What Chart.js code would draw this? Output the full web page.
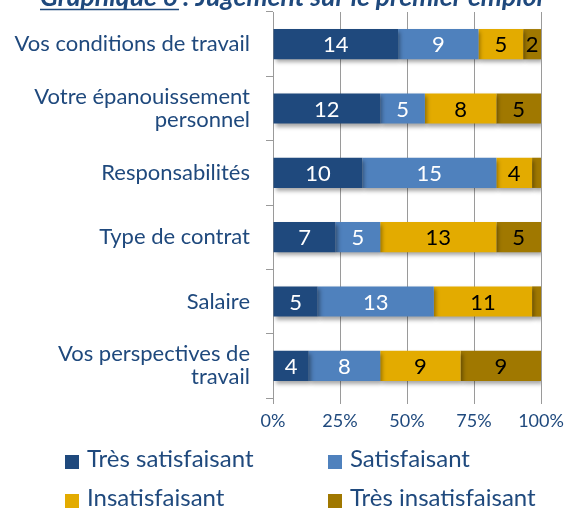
<!DOCTYPE html>
<html><head><meta charset="utf-8">
<script src="https://cdn.jsdelivr.net/npm/chart.js@4/dist/chart.umd.min.js"></script>
<style>
html,body{margin:0;padding:0;background:#fff;}
#wrap{position:relative;width:568px;height:510px;overflow:hidden;}
#c{position:absolute;left:0;top:0;}
.box{position:absolute;width:14px;height:14px;}
.lt{position:absolute;font-family:Lato,sans-serif;font-size:24px;color:#1F497D;line-height:24px;white-space:nowrap;}
</style>
</head><body>
<div id="wrap"><canvas id="c" width="568" height="510"></canvas></div>
<script>
const titleText = "Graphique 6 : Jugement sur le premier emploi";
const titleUnderlined = "Graphique 6";
const categories = [
  ["Vos conditions de travail"],
  ["Votre épanouissement", "personnel"],
  ["Responsabilités"],
  ["Type de contrat"],
  ["Salaire"],
  ["Vos perspectives de", "travail"]
];
const seriesNames = ["Très satisfaisant", "Satisfaisant", "Insatisfaisant", "Très insatisfaisant"];
const tresSatisfaisant   = [14, 12, 10, 7, 5, 4];
const satisfaisant       = [9, 5, 15, 5, 13, 8];
const insatisfaisant     = [5, 8, 4, 13, 11, 9];
const tresInsatisfaisant = [2, 5, 1, 5, 1, 9];
const xTicks = [0, 25, 50, 75, 100];

const colors = ["#1F497D", "#4F81BD", "#E3AB00", "#A07800"];
const labelColors = ["#FFFFFF", "#FFFFFF", "#000000", "#000000"];
const FONT = "Lato, sans-serif";
const TXT = "#1F497D";

const raw = [tresSatisfaisant, satisfaisant, insatisfaisant, tresInsatisfaisant];
const totals = categories.map((_, i) => raw.reduce((s, a) => s + a[i], 0));

const datasets = raw.map((arr, k) => ({
  label: seriesNames[k],
  data: arr.map((v, i) => v / totals[i] * 100),
  rawValues: arr,
  backgroundColor: colors[k],
  borderWidth: 0,
  barPercentage: 0.47,
  categoryPercentage: 1.0
}));

const shadowPlugin = {
  id: 'shadow',
  beforeDatasetDraw(chart) {
    const ctx = chart.ctx; ctx.save();
    ctx.shadowColor = 'rgba(0,0,0,0.35)';
    ctx.shadowBlur = 4; ctx.shadowOffsetX = 2; ctx.shadowOffsetY = 3;
  },
  afterDatasetDraw(chart) { chart.ctx.restore(); }
};

const labelPlugin = {
  id: 'barLabels',
  afterDatasetsDraw(chart) {
    const ctx = chart.ctx;
    ctx.save();
    ctx.font = "22px " + FONT;
    ctx.textAlign = 'center'; ctx.textBaseline = 'middle';
    chart.data.datasets.forEach((ds, k) => {
      const meta = chart.getDatasetMeta(k);
      meta.data.forEach((el, i) => {
        const v = ds.rawValues[i];
        if (v < 2) return;
        ctx.fillStyle = labelColors[k];
        ctx.fillText(String(v), (el.x + el.base) / 2, el.y + 1);
      });
    });
    ctx.restore();
  }
};

const titlePlugin = {
  id: 'cutTitle',
  afterDraw(chart) {
    const ctx = chart.ctx;
    ctx.save();
    ctx.font = "italic bold 26.6px " + FONT;
    ctx.fillStyle = TXT; ctx.textBaseline = 'alphabetic'; ctx.textAlign = 'left';
    const x0 = 40;
    ctx.fillText(titleText, x0, 6);
    const wu = ctx.measureText(titleUnderlined).width;
    ctx.strokeStyle = TXT; ctx.lineWidth = 1.5;
    ctx.beginPath(); ctx.moveTo(x0, 9.5); ctx.lineTo(x0 + wu + 2, 9.5); ctx.stroke();
    ctx.restore();
  }
};

new Chart(document.getElementById('c'), {
  type: 'bar',
  data: { labels: categories, datasets },
  options: {
    indexAxis: 'y',
    responsive: false,
    animation: false,
    layout: { padding: { top: 12, right: 27, bottom: 74, left: 0 } },
    plugins: { legend: { display: false }, tooltip: { enabled: false }, title: { display: false } },
    scales: {
      x: {
        stacked: true, min: 0, max: 100,
        afterBuildTicks(s) { s.ticks = xTicks.map(v => ({ value: v })); },
        afterFit(s) { s.height = 38; s.paddingLeft = 0; s.paddingRight = 0; },
        ticks: { callback: v => v + '%', color: TXT, font: { family: FONT, size: 18 }, padding: 6, maxRotation: 0 },
        grid: { color: '#9A9A9A', lineWidth: 1, tickLength: 6 },
        border: { display: false }
      },
      y: {
        stacked: true,
        afterFit(s) { s.width = 273; s.paddingTop = 0; s.paddingBottom = 0; },
        ticks: { color: TXT, font: { family: FONT, size: 22, lineHeight: 1.05 }, padding: 16 },
        grid: { offset: true, drawOnChartArea: false, tickLength: 7, color: '#9A9A9A' },
        border: { display: true, color: '#9A9A9A', width: 1 }
      }
    }
  },
  plugins: [shadowPlugin, labelPlugin, titlePlugin]
});

// legend (HTML, real text)
const legPos = [[65, 455], [328, 455], [65, 494], [328, 494]];
const wrap = document.getElementById('wrap');
seriesNames.forEach((n, k) => {
  const b = document.createElement('div'); b.className = 'box';
  b.style.left = legPos[k][0] + 'px'; b.style.top = legPos[k][1] + 'px'; b.style.background = colors[k];
  const t = document.createElement('div'); t.className = 'lt';
  t.style.left = (legPos[k][0] + 22) + 'px'; t.style.top = (legPos[k][1] - 9) + 'px';
  t.textContent = n;
  wrap.appendChild(b); wrap.appendChild(t);
});
</script>
</body></html>
